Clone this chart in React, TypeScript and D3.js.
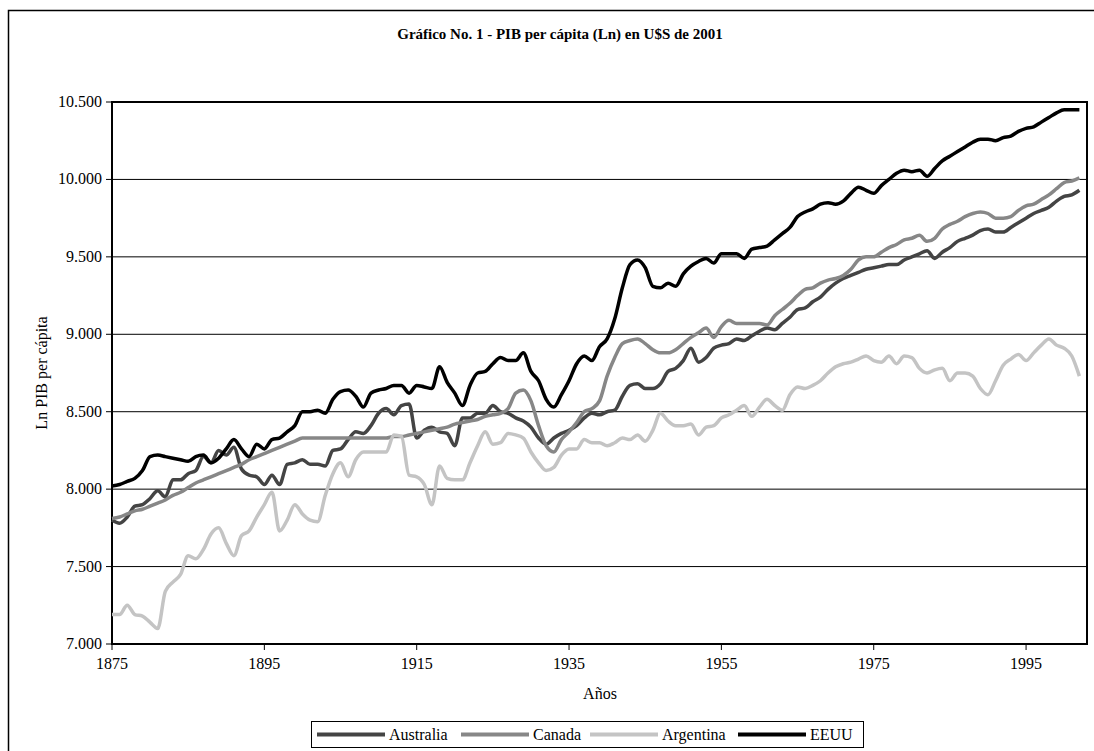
import React from "react";
import * as d3 from "d3";

const startYear = 1875;
const endYear = 2002;
const years: number[] = d3.range(startYear, endYear + 1);

const australia = [
  7.80, 7.78, 7.82, 7.89, 7.90, 7.94, 7.99, 7.95, 8.06, 8.06,
  8.10, 8.12, 8.21, 8.17, 8.25, 8.22, 8.27, 8.13, 8.09, 8.08,
  8.03, 8.09, 8.03, 8.16, 8.17, 8.19, 8.16, 8.16, 8.15, 8.25,
  8.26, 8.32, 8.37, 8.36, 8.41, 8.49, 8.52, 8.48, 8.54, 8.55,
  8.33, 8.38, 8.40, 8.37, 8.36, 8.28, 8.46, 8.46, 8.49, 8.49,
  8.54, 8.50, 8.49, 8.46, 8.44, 8.40, 8.33, 8.29, 8.33, 8.36,
  8.38, 8.41, 8.46, 8.49, 8.48, 8.50, 8.51, 8.60, 8.67, 8.68,
  8.65, 8.65, 8.68, 8.76, 8.78, 8.83, 8.91, 8.82, 8.85, 8.91,
  8.93, 8.94, 8.97, 8.96, 8.99, 9.02, 9.04, 9.03, 9.07, 9.11,
  9.16, 9.17, 9.21, 9.24, 9.29, 9.33, 9.36, 9.38, 9.40, 9.42,
  9.43, 9.44, 9.45, 9.45, 9.48, 9.50, 9.52, 9.54, 9.49, 9.53,
  9.56, 9.60, 9.62, 9.64, 9.67, 9.68, 9.66, 9.66, 9.69, 9.72,
  9.75, 9.78, 9.80, 9.82, 9.86, 9.89, 9.90, 9.93,
];

const canada = [
  7.81, 7.82, 7.84, 7.86, 7.87, 7.89, 7.91, 7.93, 7.96, 7.98,
  8.01, 8.04, 8.06, 8.08, 8.10, 8.12, 8.14, 8.16, 8.19, 8.21,
  8.23, 8.25, 8.27, 8.29, 8.31, 8.33, 8.33, 8.33, 8.33, 8.33,
  8.33, 8.33, 8.33, 8.33, 8.33, 8.33, 8.33, 8.34, 8.34, 8.35,
  8.36, 8.37, 8.38, 8.39, 8.40, 8.42, 8.43, 8.44, 8.45, 8.47,
  8.48, 8.49, 8.52, 8.62, 8.64, 8.57, 8.41, 8.28, 8.24, 8.32,
  8.37, 8.43, 8.50, 8.52, 8.57, 8.73, 8.85, 8.94, 8.96, 8.97,
  8.94, 8.90, 8.88, 8.88, 8.90, 8.94, 8.98, 9.01, 9.04, 8.98,
  9.05, 9.09, 9.07, 9.07, 9.07, 9.07, 9.06, 9.12, 9.16, 9.20,
  9.25, 9.29, 9.30, 9.33, 9.35, 9.36, 9.38, 9.42, 9.48, 9.50,
  9.50, 9.53, 9.56, 9.58, 9.61, 9.62, 9.64, 9.60, 9.62, 9.68,
  9.71, 9.73, 9.76, 9.78, 9.79, 9.78, 9.75, 9.75, 9.76, 9.80,
  9.83, 9.84, 9.87, 9.90, 9.94, 9.98, 9.99, 10.01,
];

const argentina = [
  7.19, 7.19, 7.25, 7.19, 7.18, 7.14, 7.10, 7.34, 7.40, 7.45,
  7.57, 7.55, 7.61, 7.71, 7.75, 7.65, 7.57, 7.70, 7.73, 7.82,
  7.90, 7.98, 7.73, 7.80, 7.90, 7.84, 7.80, 7.79, 7.96, 8.10,
  8.17, 8.08, 8.19, 8.24, 8.24, 8.24, 8.24, 8.35, 8.34, 8.09,
  8.08, 8.03, 7.90, 8.15, 8.07, 8.06, 8.06, 8.17, 8.28, 8.37,
  8.29, 8.30, 8.36, 8.35, 8.33, 8.24, 8.17, 8.12, 8.14, 8.22,
  8.26, 8.26, 8.32, 8.30, 8.30, 8.28, 8.30, 8.33, 8.32, 8.35,
  8.31, 8.38, 8.49, 8.44, 8.41, 8.41, 8.42, 8.35, 8.40, 8.41,
  8.46, 8.48, 8.51, 8.54, 8.47, 8.53, 8.58, 8.54, 8.51, 8.61,
  8.66, 8.65, 8.67, 8.70, 8.75, 8.79, 8.81, 8.82, 8.84, 8.86,
  8.83, 8.82, 8.86, 8.81, 8.86, 8.85, 8.78, 8.75, 8.77, 8.78,
  8.70, 8.75, 8.75, 8.73, 8.65, 8.61, 8.70, 8.80, 8.84, 8.87,
  8.83, 8.88, 8.93, 8.97, 8.93, 8.91, 8.86, 8.73,
];

const eeuu = [
  8.02, 8.03, 8.05, 8.07, 8.12, 8.21, 8.22, 8.21, 8.20, 8.19,
  8.18, 8.21, 8.22, 8.17, 8.20, 8.26, 8.32, 8.26, 8.21, 8.29,
  8.26, 8.32, 8.33, 8.37, 8.41, 8.50, 8.50, 8.51, 8.49, 8.58,
  8.63, 8.64, 8.60, 8.53, 8.62, 8.64, 8.65, 8.67, 8.67, 8.62,
  8.67, 8.66, 8.65, 8.79, 8.69, 8.62, 8.54, 8.67, 8.75, 8.76,
  8.81, 8.85, 8.83, 8.83, 8.88, 8.76, 8.70, 8.58, 8.53, 8.61,
  8.70, 8.81, 8.86, 8.83, 8.92, 8.97, 9.10, 9.30, 9.45, 9.48,
  9.43, 9.31, 9.30, 9.33, 9.31, 9.39, 9.44, 9.47, 9.49, 9.46,
  9.52, 9.52, 9.52, 9.49, 9.55, 9.56, 9.57, 9.61, 9.65, 9.69,
  9.76, 9.79, 9.81, 9.84, 9.85, 9.84, 9.86, 9.91, 9.95, 9.93,
  9.91, 9.96, 10.00, 10.04, 10.06, 10.05, 10.06, 10.02, 10.07, 10.12,
  10.15, 10.18, 10.21, 10.24, 10.26, 10.26, 10.25, 10.27, 10.28, 10.31,
  10.33, 10.34, 10.37, 10.40, 10.43, 10.45, 10.45, 10.45,
];

const seriesNames = ["Australia", "Canada", "Argentina", "EEUU"];
const seriesColors = ["#444444", "#878787", "#c4c4c4", "#000000"];
const seriesValues = [australia, canada, argentina, eeuu];

const yTicks = [7.0, 7.5, 8.0, 8.5, 9.0, 9.5, 10.0, 10.5];
const xTicks = [1875, 1895, 1915, 1935, 1955, 1975, 1995];

const titleText = "Gráfico No. 1 - PIB per cápita (Ln) en U$S de 2001";
const yTitle = "Ln PIB per cápita";
const xTitle = "Años";

export default function App() {
  const W = 1094;
  const H = 751;
  const left = 112;
  const right = 1087;
  const top = 102;
  const bottom = 644;
  const font = "'Liberation Serif', 'Times New Roman', serif";

  const x = d3.scaleLinear().domain([startYear, endYear + 1]).range([left, right]);
  const y = d3.scaleLinear().domain([7.0, 10.5]).range([bottom, top]);

  const line = d3
    .line<number>()
    .x((_, i) => x(years[i]))
    .y((d) => y(d))
    .curve(d3.curveMonotoneX);

  // legend layout
  const legX = 311;
  const legY = 721;
  const legW = 552;
  const legH = 26;
  const itemStarts = [317, 461, 590, 738];
  const sampleLen = 68;

  return (
    <div style={{ position: "absolute", left: 0, top: 0, width: W, height: H, background: "#fff" }}>
      <svg width={W} height={H} style={{ display: "block" }} fontFamily={font}>
        <rect x={0} y={0} width={W} height={H} fill="#fff" />
        {/* outer chart border */}
        <rect x={8.5} y={10.5} width={W + 100} height={H + 100} fill="none" stroke="#000" strokeWidth={1.5} />

        {/* title */}
        <text x={560} y={39} textAnchor="middle" fontSize={15} fontWeight="bold" fill="#000">
          {titleText}
        </text>

        {/* gridlines */}
        {yTicks.map((t) => (
          <line key={"g" + t} x1={left} x2={right} y1={y(t)} y2={y(t)} stroke="#000" strokeWidth={1} />
        ))}

        {/* plot frame */}
        <rect x={left} y={top} width={right - left} height={bottom - top} fill="none" stroke="#000" strokeWidth={2} />

        {/* y ticks and labels */}
        {yTicks.map((t) => (
          <g key={"y" + t}>
            <line x1={left - 6} x2={left} y1={y(t)} y2={y(t)} stroke="#000" strokeWidth={1} />
            <text x={left - 10} y={y(t) + 5} textAnchor="end" fontSize={16} fill="#000">
              {t.toFixed(3)}
            </text>
          </g>
        ))}

        {/* x ticks and labels */}
        {xTicks.map((t) => (
          <g key={"x" + t}>
            <line x1={x(t)} x2={x(t)} y1={bottom} y2={bottom + 6} stroke="#000" strokeWidth={1} />
            <text x={x(t)} y={bottom + 25} textAnchor="middle" fontSize={16} fill="#000">
              {t}
            </text>
          </g>
        ))}

        {/* axis titles */}
        <text x={600} y={699} textAnchor="middle" fontSize={16} fill="#000">
          {xTitle}
        </text>
        <text
          transform={`translate(47, ${(top + bottom) / 2}) rotate(-90)`}
          textAnchor="middle"
          fontSize={16}
          fill="#000"
        >
          {yTitle}
        </text>

        {/* series */}
        {seriesValues.map((vals, i) => (
          <path
            key={seriesNames[i]}
            d={line(vals) || ""}
            fill="none"
            stroke={seriesColors[i]}
            strokeWidth={3.5}
            strokeLinejoin="round"
          />
        ))}

        {/* legend */}
        <rect x={legX + 0.5} y={legY + 0.5} width={legW} height={legH} fill="#fff" stroke="#000" strokeWidth={1} />
        {seriesNames.map((n, i) => (
          <g key={"l" + n}>
            <line
              x1={itemStarts[i]}
              x2={itemStarts[i] + sampleLen}
              y1={legY + legH / 2 + 0.5}
              y2={legY + legH / 2 + 0.5}
              stroke={seriesColors[i]}
              strokeWidth={4}
            />
            <text x={itemStarts[i] + sampleLen + 4} y={legY + legH / 2 + 6} fontSize={16} fill="#000">
              {n}
            </text>
          </g>
        ))}
      </svg>
    </div>
  );
}
